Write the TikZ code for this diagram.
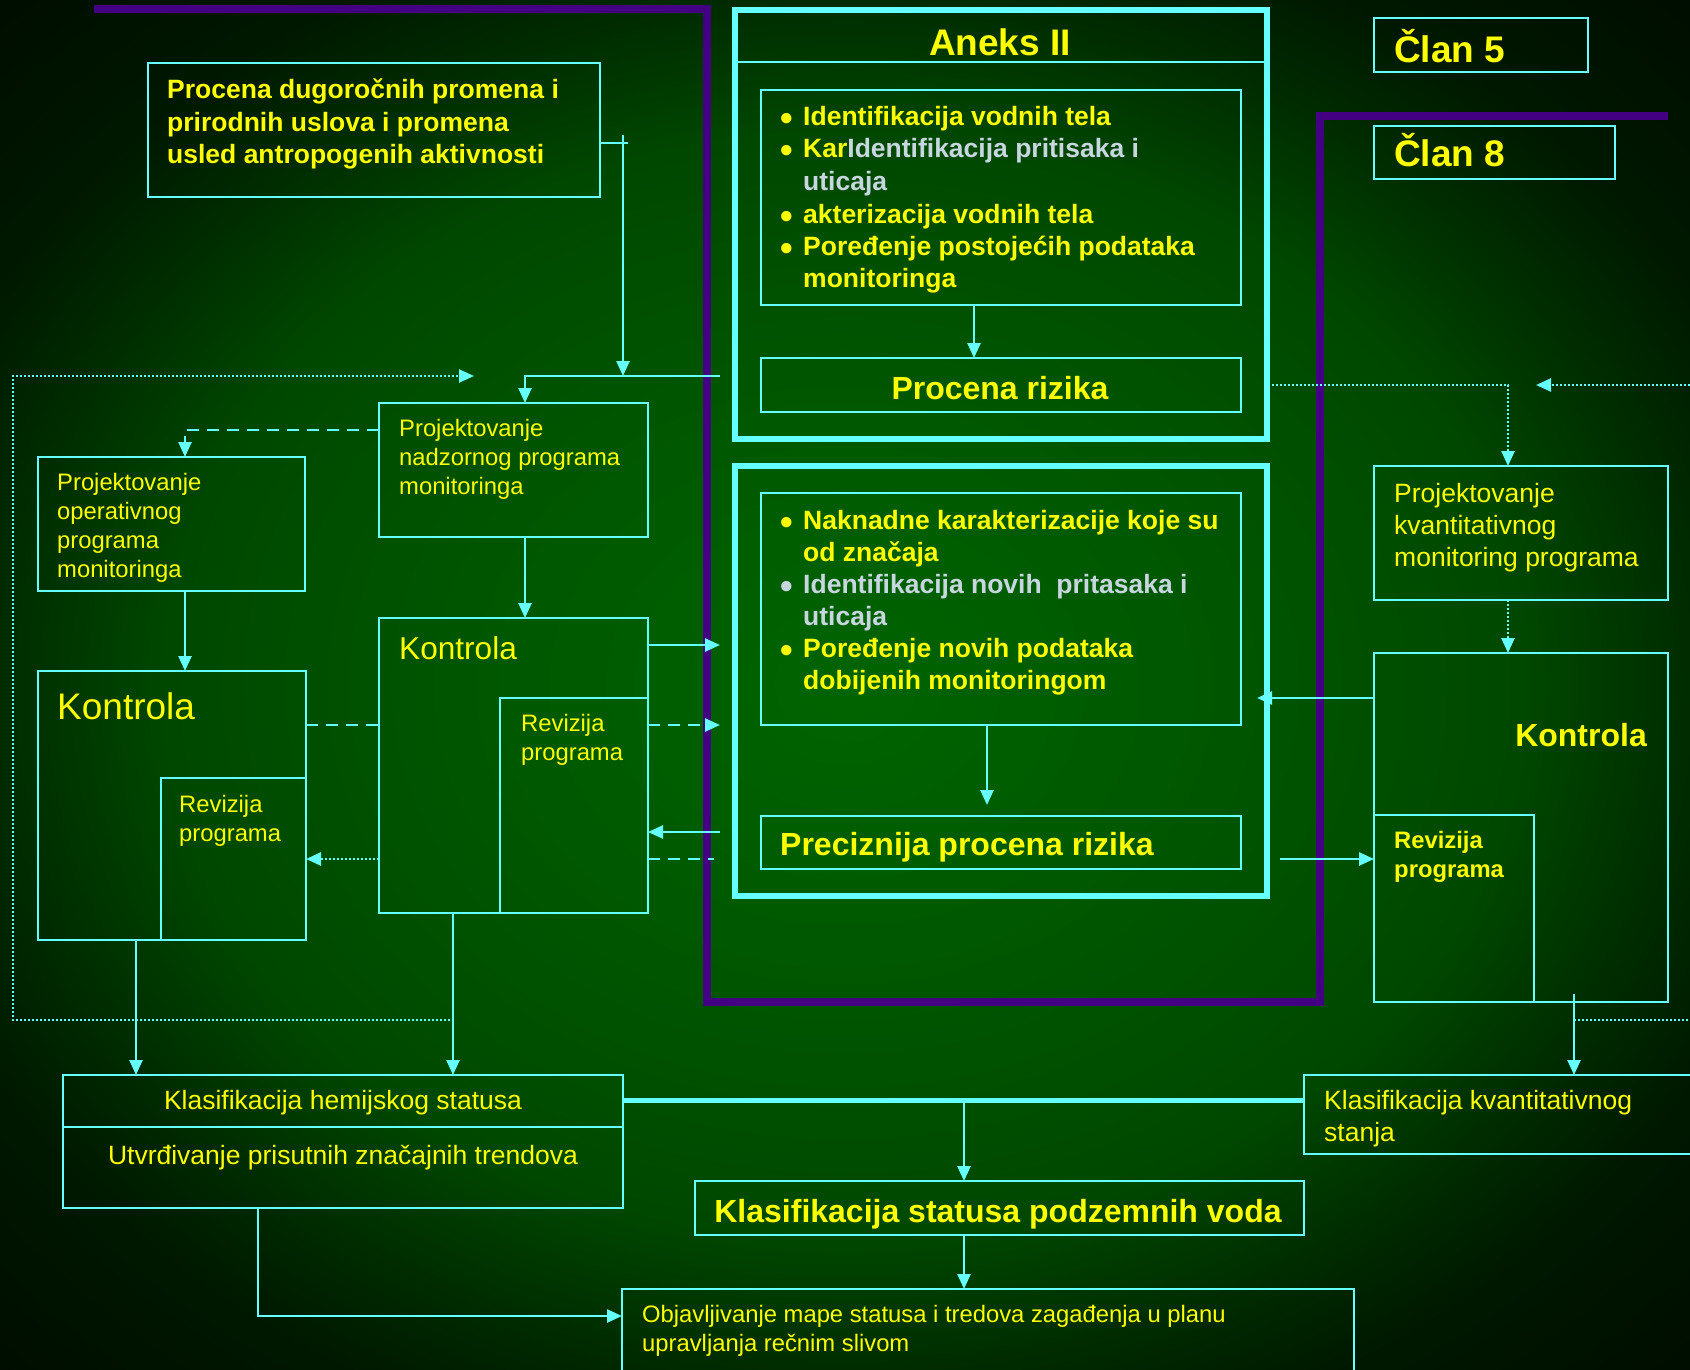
\documentclass[tikz,border=0pt]{standalone}
\usepackage{fontspec}
\setmainfont{Liberation Sans}
\usetikzlibrary{arrows.meta}
\definecolor{cyl}{RGB}{102,255,255}
\definecolor{yel}{RGB}{255,255,0}
\definecolor{gry}{RGB}{200,214,224}
\definecolor{pur}{RGB}{68,0,130}
\definecolor{bga}{RGB}{0,100,0}
\definecolor{bgb}{RGB}{0,88,0}
\definecolor{bgc}{RGB}{0,72,0}
\definecolor{bgd}{RGB}{0,44,0}
\definecolor{bge}{RGB}{0,24,0}
\definecolor{bgf}{RGB}{0,12,0}
\pgfdeclareradialshading{bgshade}{\pgfpoint{0bp}{0bp}}{color(0bp)=(bga); color(10bp)=(bgb); color(20bp)=(bgc); color(25bp)=(bgd); color(29bp)=(bge); color(36bp)=(bgf); color(50bp)=(bgf)}
\newcommand\ftitle{\fontsize{37}{44}\selectfont\bfseries}
\newcommand\fbh{\fontsize{32}{38}\selectfont\bfseries}
\newcommand\fbl{\fontsize{26.5}{32.3}\selectfont\bfseries}
\newcommand\fnl{\fontsize{26.5}{32}\selectfont}
\newcommand\fns{\fontsize{23.8}{29}\selectfont}
\newcommand\bul{\llap{\smash{\raisebox{-5pt}{\fontsize{36}{36}\selectfont\textbullet}}\hspace{10pt}}}
\newcommand\bx[6][]{\node[box,#1,minimum width=#5pt-#3pt,minimum height=#6pt-#4pt] (#2) at (#3,#4) {};}
\tikzset{
  box/.style={draw=cyl, line width=2.5pt, inner sep=0pt, outer sep=0pt, anchor=north west},
  thickbox/.style={line width=5.5pt},
  conn/.style={draw=cyl, line width=2.5pt},
  arr/.style={conn, -{Triangle[length=15pt,width=13pt]}},
  dsh/.style={dash pattern=on 12pt off 8pt},
  dotln/.style={dash pattern=on 2pt off 2pt},
  txt/.style={inner sep=0pt, anchor=base west, text=yel},
  ctxt/.style={inner sep=0pt, anchor=base, text=yel},
}
\begin{document}
\begin{tikzpicture}[x=1pt,y=-1pt]
\useasboundingbox (0,0) rectangle (1690,1370);
\shade[shading=bgshade] (0,0) rectangle (1690,1370);
% purple frame
\draw[pur, line width=8pt] (94,9) -- (707,9) -- (707,1002) -- (1320,1002) -- (1320,116) -- (1668,116);

% boxes
\bx{proc}{148}{63}{600}{197}
\bx[thickbox]{anx}{735}{10}{1267}{439}
\bx{bla}{761}{90}{1241}{305}
\bx{rz}{761}{358}{1241}{412}
\bx[thickbox]{anxb}{735}{466}{1267}{896}
\bx{blb}{761}{493}{1241}{725}
\bx{prec}{761}{816}{1241}{869}
\bx{cfive}{1374}{18}{1588}{72}
\bx{ceight}{1374}{126}{1615}{179}
\bx{nadz}{379}{403}{648}{537}
\bx{oper}{38}{457}{305}{591}
\bx{kL}{38}{671}{306}{940}
\bx{rL}{161}{778}{306}{940}
\bx{kM}{379}{618}{648}{913}
\bx{rM}{500}{698}{648}{913}
\bx{kv}{1374}{466}{1668}{600}
\bx{kR}{1374}{653}{1668}{1002}
\bx{rR}{1374}{815}{1534}{1002}
\bx{hem}{63}{1075}{623}{1208}
\bx{kvs}{1304}{1075}{1700}{1154}
\bx{sta}{695}{1181}{1304}{1235}
\bx{obj}{622}{1289}{1354}{1380}
\draw[conn] (anx.west |- 0,62) -- (anx.east |- 0,62);
\draw[conn] (hem.west |- 0,1127) -- (hem.east |- 0,1127);

% texts
\node[txt] (tproc) at (167,99) {\parbox[t]{440pt}{\raggedright\fbl Procena dugoro\v{c}nih promena i\\prirodnih uslova i promena\\usled antropogenih aktivnosti}};
\node[ctxt] (tanx) at (1000,56) {\ftitle Aneks II};
\node[txt] (ba1) at (803,126) {\fbl\bul Identifikacija vodnih tela};
\node[txt] (ba2) at (803,158) {\fbl\bul Kar\textcolor{gry}{Identifikacija pritisaka i}};
\node[txt,text=gry] (ba3) at (803,190) {\fbl uticaja};
\node[txt] (ba4) at (803,223) {\fbl\bul akterizacija vodnih tela};
\node[txt] (ba5) at (803,255) {\fbl\bul Poređenje postojećih podataka};
\node[txt] (ba6) at (803,287) {\fbl monitoringa};
\node[ctxt] (trz) at (1000,399) {\fbh Procena rizika};
\node[txt] (bb1) at (803,529) {\fbl\bul Naknadne karakterizacije koje su};
\node[txt] (bb2) at (803,561) {\fbl od značaja};
\node[txt,text=gry] (bb3) at (803,593) {\fbl\bul Identifikacija novih~ pritasaka i};
\node[txt,text=gry] (bb4) at (803,625) {\fbl uticaja};
\node[txt] (bb5) at (803,657) {\fbl\bul Poređenje novih podataka};
\node[txt] (bb6) at (803,689) {\fbl dobijenih monitoringom};
\node[txt] (tprec) at (780,855) {\fbh Preciznija procena rizika};
\node[txt] (tc5) at (1394,63) {\ftitle Član 5};
\node[txt] (tc8) at (1394,167) {\ftitle Član 8};
\node[txt] (tnadz) at (399,436) {\parbox[t]{240pt}{\raggedright\fns Projektovanje\\nadzornog programa\\monitoringa}};
\node[txt] (toper) at (57,490) {\parbox[t]{240pt}{\raggedright\fns Projektovanje\\operativnog\\programa\\monitoringa}};
\node[txt] (tkL) at (57,719) {\fontsize{37}{44}\selectfont Kontrola};
\node[txt] (trL) at (179,812) {\parbox[t]{120pt}{\raggedright\fns Revizija\\programa}};
\node[txt] (tkM) at (399,659) {\fontsize{31.6}{38}\selectfont Kontrola};
\node[txt] (trM) at (521,731) {\parbox[t]{120pt}{\raggedright\fns Revizija\\programa}};
\node[txt] (tkv) at (1394,502) {\parbox[t]{280pt}{\raggedright\fnl Projektovanje\\kvantitativnog\\monitoring programa}};
\node[txt,anchor=base east] (tkR) at (1647,746) {\fbh Kontrola};
\node[txt] (trR) at (1394,848) {\parbox[t]{130pt}{\raggedright\fns\bfseries Revizija\\programa}};
\node[ctxt] (themA) at (343,1109) {\fnl Klasifikacija hemijskog statusa};
\node[ctxt] (themB) at (343,1164) {\fnl Utvrđivanje prisutnih značajnih trendova};
\node[txt] (tkvs) at (1324,1109) {\parbox[t]{360pt}{\raggedright\fnl Klasifikacija kvantitativnog\\stanja}};
\node[ctxt] (tsta) at (998,1222) {\fbh Klasifikacija statusa podzemnih voda};
\node[txt] (tobj) at (642,1322) {\parbox[t]{700pt}{\raggedright\fns Objavljivanje mape statusa i tredova zagađenja u planu\\upravljanja rečnim slivom}};

% connectors
\coordinate (stub) at (628,143);
\draw[conn] (proc.east |- stub) -- (stub);
\coordinate (vtop) at (623,135);
\coordinate (vbot) at (623,376);
\draw[arr] (vtop) -- (vbot);
\coordinate (jn) at (720,376);
\draw[arr] (jn) -| (525,0 |- nadz.north);
\draw[arr] (bla.south -| 974,0) -- (rz.north -| 974,0);
\draw[arr] (blb.south -| 987,0) -- (987,805);
% dotted loop left
\coordinate (dl1) at (450,1020);
\coordinate (dl2) at (13,1020);
\coordinate (dl3) at (13,376);
\coordinate (dl4) at (474,376);
\draw[arr,dotln] (dl1) -- (dl2) -- (dl3) -- (dl4);
% dotted right
\coordinate (dr1) at (1690,385);
\coordinate (dr2) at (1536,385);
\draw[arr,dotln] (dr1) -- (dr2);
\coordinate (dr3) at (1272,385);
\draw[arr,dotln] (dr3) -| (1508,0 |- kv.north);
\coordinate (dr4) at (1574,1020);
\coordinate (dr5) at (1690,1020);
\draw[conn,dotln] (dr4) -- (dr5);
\draw[arr,dotln] (kv.south -| 1508,0) -- (kR.north -| 1508,0);
% left column
\draw[arr,dsh] (nadz.west |- 0,430) -| (185,0 |- oper.north);
\draw[arr] (oper.south -| 185,0) -- (kL.north -| 185,0);
\draw[arr] (nadz.south -| 525,0) -- (kM.north -| 525,0);
\draw[conn,dsh] (kL.east |- 0,725) -- (kM.west |- 0,725);
\draw[arr,dotln] (kM.west |- 0,859) -- (kL.east |- 0,859);
\coordinate (m1) at (720,645);
\draw[arr] (kM.east |- m1) -- (m1);
\coordinate (m2) at (720,725);
\draw[arr,dsh] (kM.east |- m2) -- (m2);
\coordinate (m3) at (720,832);
\draw[arr] (m3) -- (kM.east |- m3);
\coordinate (m4) at (714,859);
\draw[conn,dsh] (kM.east |- m4) -- (m4);
\draw[arr] (kL.south -| 136,0) -- (hem.north -| 136,0);
\draw[arr] (kM.south -| 453,0) -- (hem.north -| 453,0);
% right column
\coordinate (r1) at (1257,698);
\draw[arr] (kR.west |- r1) -- (r1);
\coordinate (r2) at (1280,859);
\draw[arr] (r2) -- (rR.west |- r2);
\coordinate (r3) at (1574,994);
\draw[arr] (r3) -- (kvs.north -| r3);
% bottom
\draw[conn,line width=5pt] (hem.east |- 0,1100) -- (kvs.west |- 0,1100);
\coordinate (b1) at (964,1100);
\draw[arr] (b1) -- (sta.north -| b1);
\draw[arr] (sta.south -| b1) -- (obj.north -| b1);
\coordinate (b2) at (258,1316);
\draw[arr] (hem.south -| b2) -- (b2) -- (obj.west |- b2);
\end{tikzpicture}
\end{document}
